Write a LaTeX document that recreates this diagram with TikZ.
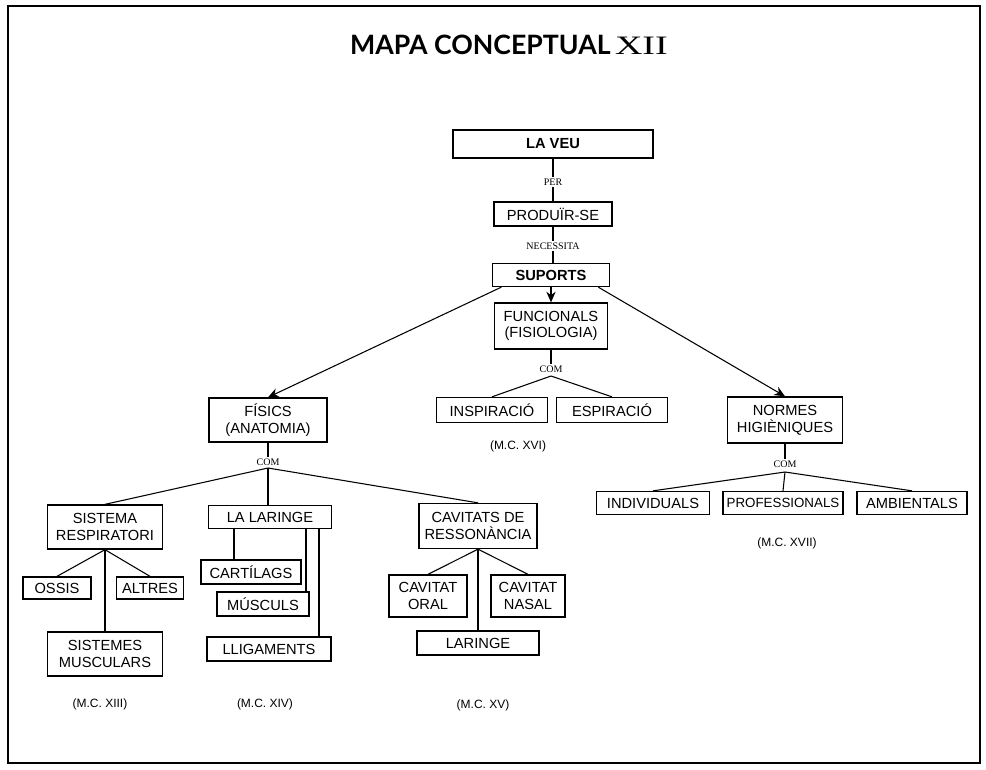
\documentclass[tikz,border=0pt]{standalone}
\usepackage{fontspec}
\setmainfont{Liberation Sans}
\newfontfamily\linkfont{Liberation Serif}
\newfontfamily\headfont{Lato}
\usetikzlibrary{arrows.meta,calc}
\begin{document}
\begin{tikzpicture}[x=0.75pt,y=-0.75pt,
  box/.style={draw,line width=1pt,inner sep=0pt,align=center,font=\fontsize{11}{12.5}\selectfont},
  bold/.style={font=\fontsize{11}{12.5}\selectfont\bfseries},
  narrow/.style={font=\fontsize{10}{12}\selectfont},
  sz/.style 2 args={minimum width=#1*0.75pt,minimum height=#2*0.75pt},
  link/.style={inner sep=1pt,font=\linkfont\fontsize{7.5}{8}\selectfont},
  ref/.style={font=\fontsize{9}{10}\selectfont},
  conn/.style={line width=0.8pt},
  arr/.style={line width=0.8pt,-{Stealth[length=8pt,width=7pt]}}]
\useasboundingbox (0,0) rectangle (986,769);
% frame
\draw[line width=1.2pt] (8,6) rectangle (980,763);
% title
\node (title) at (509,45) {\headfont\fontseries{b}\selectfont\fontsize{20}{22}\selectfont MAPA CONCEPTUAL\,{\linkfont\mdseries\fontsize{19}{20}\selectfont\scalebox{1.5}[1.05]{XII}}};

% top chain
\node[box,bold,sz={200}{28}] (laveu) at (553,144) {LA VEU};
\node[box,sz={118}{24}] (produir) at (553,214) {PRODUÏR-SE};
\node[box,bold,sz={117}{23}] (suports) at (551,275) {SUPORTS};
\node[link] (per) at (553,182) {PER};
\node[link] (nec) at (553,246) {NECESSITA};
\draw[conn] (laveu.south) -- (per.north);
\draw[conn] (per.south) -- (produir.north);
\draw[conn] (produir.south) -- (nec.north);
\draw[conn] (nec.south) -- (suports.north -| nec.south);

% second level
\node[box,sz={113}{46}] (funcionals) at (551,326) {FUNCIONALS\\(FISIOLOGIA)};
\node[box,sz={118}{44}] (fisics) at (268,420) {FÍSICS\\(ANATOMIA)};
\node[box,sz={115}{46}] (normes) at (785,420) {NORMES\\HIGIÈNIQUES};
\draw[arr] (suports.south) -- (funcionals.north);
\draw[arr] ($(suports.south west)!0.08!(suports.south east)$) -- (fisics.north);
\draw[arr] ($(suports.south west)!0.9!(suports.south east)$) -- (normes.north);

% funcionals branch
\node[link] (com1) at (551,369) {COM};
\coordinate (j1) at (551,376);
\node[box,sz={111}{25}] (inspiracio) at (492,410) {INSPIRACIÓ};
\node[box,sz={111}{25}] (espiracio) at (612,410) {ESPIRACIÓ};
\draw[conn] (funcionals.south) -- (com1.north);
\draw[conn] (j1) -- (inspiracio.north);
\draw[conn] (j1) -- (espiracio.north);
\node[ref] (mc16) at (518,446) {(M.C. XVI)};

% normes branch
\node[link] (com3) at (785,464) {COM};
\coordinate (j3) at (785,472);
\node[box,sz={113}{23}] (individuals) at (653,503) {INDIVIDUALS};
\node[box,narrow,sz={120}{23}] (professionals) at (783,503) {PROFESSIONALS};
\node[box,sz={110}{23}] (ambientals) at (912,503) {AMBIENTALS};
\draw[conn] (normes.south) -- (com3.north);
\draw[conn] (j3) -- (individuals.north);
\draw[conn] (j3) -- (professionals.north);
\draw[conn] (j3) -- (ambientals.north);
\node[ref] (mc17) at (787,543) {(M.C. XVII)};

% fisics branch
\node[link] (com2) at (268,462) {COM};
\coordinate (j2) at (268,468);
\node[box,sz={115}{44}] (sisresp) at (105,527) {SISTEMA\\RESPIRATORI};
\node[box,sz={123}{23}] (laringe) at (270,517) {LA LARINGE};
\node[box,sz={118}{45}] (cavitats) at (478,526) {CAVITATS DE\\RESSONÀNCIA};
\draw[conn] (fisics.south) -- (com2.north);
\draw[conn] (j2) -- (sisresp.north);
\draw[conn] (j2) -- (laringe.north -| j2);
\draw[conn] (j2) -- (cavitats.north);

% sistema respiratori
\node[box,sz={68}{22}] (ossis) at (57,588) {OSSIS};
\node[box,sz={67}{22}] (altres) at (150,588) {ALTRES};
\node[box,sz={115}{44}] (sismusc) at (105,654) {SISTEMES\\MUSCULARS};
\draw[conn] (sisresp.south) -- (ossis.north);
\draw[conn] (sisresp.south) -- (altres.north);
\draw[conn] (sisresp.south) -- (sismusc.north);
\node[ref] (mc13) at (100,704) {(M.C. XIII)};

% la laringe
\node[box,sz={100}{24}] (cart) at (251,572) {CARTÍLAGS};
\node[box,sz={92}{24}] (musc) at (263,604) {MÚSCULS};
\node[box,sz={124}{24}] (llig) at (269,649) {LLIGAMENTS};
\coordinate (t1) at (234,529);
\coordinate (t2) at (306,529);
\coordinate (t3) at (319,529);
\draw[conn] (t1) -- (t1 |- cart.north);
\draw[conn] (t2) -- (t2 |- musc.north);
\draw[conn] (t3) -- (t3 |- llig.north);
\node[ref] (mc14) at (265,704) {(M.C. XIV)};

% cavitats
\node[box,sz={78}{42}] (oral) at (428,596) {CAVITAT\\ORAL};
\node[box,sz={74}{42}] (nasal) at (528,596) {CAVITAT\\NASAL};
\node[box,sz={122}{24}] (lar2) at (478,643) {LARINGE};
\draw[conn] (cavitats.south) -- (oral.north);
\draw[conn] (cavitats.south) -- (nasal.north);
\draw[conn] (cavitats.south) -- (lar2.north);
\node[ref] (mc15) at (483,705) {(M.C. XV)};
\end{tikzpicture}
\end{document}
